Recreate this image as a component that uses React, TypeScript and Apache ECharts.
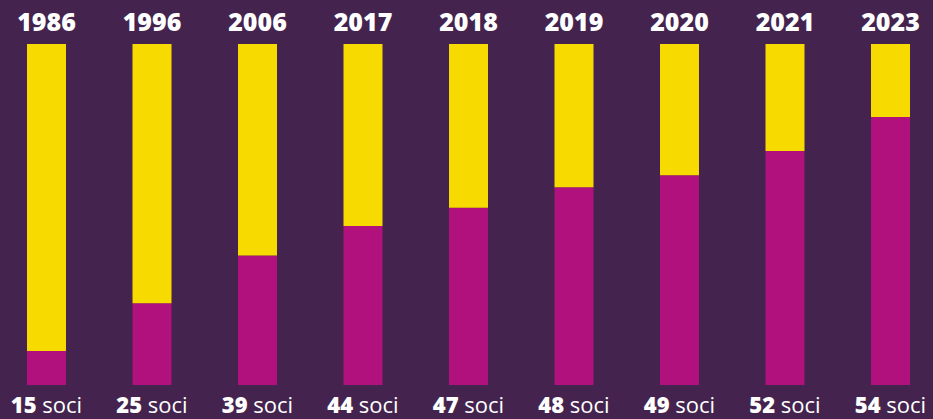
import React, { useEffect, useRef } from "react";
import * as echarts from "echarts";

const years = ["1986", "1996", "2006", "2017", "2018", "2019", "2020", "2021", "2023"];
const members = [15, 25, 39, 44, 47, 48, 49, 52, 54];
const magentaShare = [10, 24, 38, 46.6, 52, 58, 61.5, 68.6, 78.6];
const yellowShare = [90, 76, 62, 53.4, 48, 42, 38.5, 31.4, 21.4];

const BG = "#44244F";
const YELLOW = "#F7DA00";
const MAGENTA = "#B0117D";
const FONT = "'Open Sans', 'Noto Sans', sans-serif";

export default function App() {
  const ref = useRef<HTMLDivElement>(null);
  useEffect(() => {
    if (!ref.current) return;
    const chart = echarts.init(ref.current, null, { renderer: "svg" });
    chart.setOption({
      animation: false,
      backgroundColor: BG,
      grid: { left: -6.25, width: 949.5, top: 44, bottom: 34, outerBoundsMode: "none", containLabel: false },
      xAxis: [
        {
          type: "category",
          data: members.map((m) => `${m}`),
          position: "bottom",
          axisLine: { show: false },
          axisTick: { show: false },
          axisLabel: {
            margin: 9,
            interval: 0,
            formatter: (v: string) => `{b|${v}}{r| soci}`,
            rich: {
              b: { color: "#ffffff", fontFamily: FONT, fontWeight: 800, fontSize: 22, lineHeight: 20 },
              r: { color: "#ffffff", fontFamily: FONT, fontWeight: 400, fontSize: 22, lineHeight: 20 },
            },
          },
        },
        {
          type: "category",
          data: years,
          position: "top",
          axisLine: { show: false },
          axisTick: { show: false },
          axisLabel: {
            margin: 10,
            interval: 0,
            color: "#ffffff",
            fontFamily: FONT,
            fontWeight: 800,
            fontSize: 25,
            lineHeight: 26,
          },
        },
      ],
      yAxis: { type: "value", min: 0, max: 100, show: false, splitLine: { show: false } },
      series: [
        {
          type: "bar",
          stack: "s",
          data: magentaShare,
          barWidth: 39,
          itemStyle: { color: MAGENTA },
        },
        {
          type: "bar",
          stack: "s",
          data: yellowShare,
          barWidth: 39,
          itemStyle: { color: YELLOW },
        },
      ],
    });
    return () => chart.dispose();
  }, []);
  return (
    <div
      ref={ref}
      style={{ position: "absolute", left: 0, top: 0, width: 933, height: 419 }}
    />
  );
}
